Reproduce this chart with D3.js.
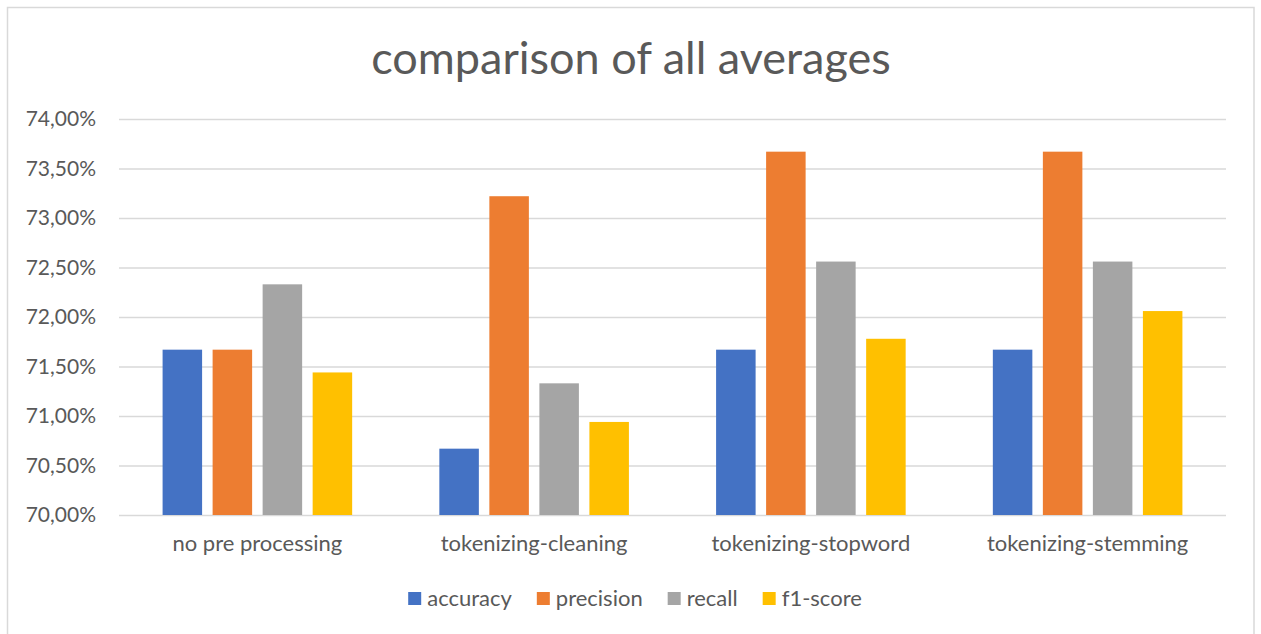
<!DOCTYPE html>
<html>
<head>
<meta charset="utf-8">
<script src="https://cdn.jsdelivr.net/npm/d3@7/dist/d3.min.js"></script>
<style>
  html, body { margin: 0; padding: 0; background: #fff; }
  svg { display: block; font-family: Lato, "Noto Sans", sans-serif; }
</style>
</head>
<body>
<svg id="chart" width="1261" height="634"></svg>
<script>
/*******************************************************************************************/
// Data

var categories = ['no pre processing', 'tokenizing-cleaning', 'tokenizing-stopword', 'tokenizing-stemming'];
var seriesNames = ['accuracy', 'precision', 'recall', 'f1-score'];
var accuracy  = [71.67, 70.67, 71.67, 71.67];
var precision = [71.67, 73.22, 73.67, 73.67];
var recall    = [72.33, 71.33, 72.56, 72.56];
var f1score   = [71.44, 70.94, 71.78, 72.06];
var yTicks = [70, 70.5, 71, 71.5, 72, 72.5, 73, 73.5, 74];
var colors = ['#4472C4', '#ED7D31', '#A5A5A5', '#FFC000'];

var seriesValues = [accuracy, precision, recall, f1score];

/*******************************************************************************************/
// Layout

var svg = d3.select('#chart');
var plot = { left: 119, right: 1226, top: 119, bottom: 515 };
var textColor = '#595959', gridColor = '#D9D9D9';

// chart frame
svg.append('rect')
  .attr('x', 7.5).attr('y', 7.5).attr('width', 1246.5).attr('height', 640)
  .style('fill', '#fff').style('stroke', gridColor).style('stroke-width', 1.5);

var x0 = d3.scaleBand().domain(categories).range([plot.left, plot.right])
  .paddingInner(0.315).paddingOuter(0.1575);
var x1 = d3.scaleBand().domain(seriesNames).range([0, x0.bandwidth()]).paddingInner(0.21);
var y = d3.scaleLinear().domain([70, 74]).range([plot.bottom, plot.top]);

/*******************************************************************************************/
// Title

svg.append('text')
  .attr('x', 631).attr('y', 74)
  .style('text-anchor', 'middle').style('font-size', '45px').style('fill', textColor)
  .text('comparison of all averages');

/*******************************************************************************************/
// Y axis with gridlines

var yAxis = svg.append('g')
  .attr('transform', 'translate(' + plot.left + ',0)')
  .call(d3.axisLeft(y).tickValues(yTicks)
    .tickSize(-(plot.right - plot.left))
    .tickPadding(23)
    .tickFormat(function(d){ return d3.format('.2f')(d).replace('.', ',') + '%'; }));

yAxis.select('.domain').remove();
yAxis.selectAll('line').style('stroke', gridColor).style('stroke-width', 1.5);
yAxis.selectAll('text')
  .style('font-family', 'Lato, "Noto Sans", sans-serif')
  .style('font-size', '21px').style('fill', textColor);

/*******************************************************************************************/
// Bars

var groups = svg.append('g').selectAll('g')
  .data(categories).enter().append('g')
  .attr('transform', function(d){ return 'translate(' + x0(d) + ',0)'; });

groups.selectAll('rect')
  .data(function(d, i){ return seriesNames.map(function(s, j){ return { s: s, v: seriesValues[j][i], c: colors[j] }; }); })
  .enter().append('rect')
  .attr('x', function(d){ return x1(d.s); })
  .attr('width', x1.bandwidth())
  .attr('y', function(d){ return y(d.v); })
  .attr('height', function(d){ return y(70) - y(d.v); })
  .style('fill', function(d){ return d.c; });

/*******************************************************************************************/
// Category labels

svg.append('g').selectAll('text')
  .data(categories).enter().append('text')
  .attr('x', function(d){ return x0(d) + x0.bandwidth() / 2; })
  .attr('y', 551)
  .style('text-anchor', 'middle').style('font-size', '22px').style('fill', textColor)
  .text(function(d){ return d; });

/*******************************************************************************************/
// Legend

var legend = svg.append('g');
var lx = 0;
seriesNames.forEach(function(name, i){
  var item = legend.append('g').attr('transform', 'translate(' + lx + ',0)');
  item.append('rect').attr('x', 0).attr('y', 592).attr('width', 13).attr('height', 13).style('fill', colors[i]);
  var t = item.append('text').attr('x', 19).attr('y', 606)
    .style('font-size', '22px').style('fill', textColor).text(name);
  lx += 19 + t.node().getComputedTextLength() + 25;
});
var legendWidth = lx - 25;
legend.attr('transform', 'translate(' + (635 - legendWidth / 2) + ',0)');
</script>
</body>
</html>
